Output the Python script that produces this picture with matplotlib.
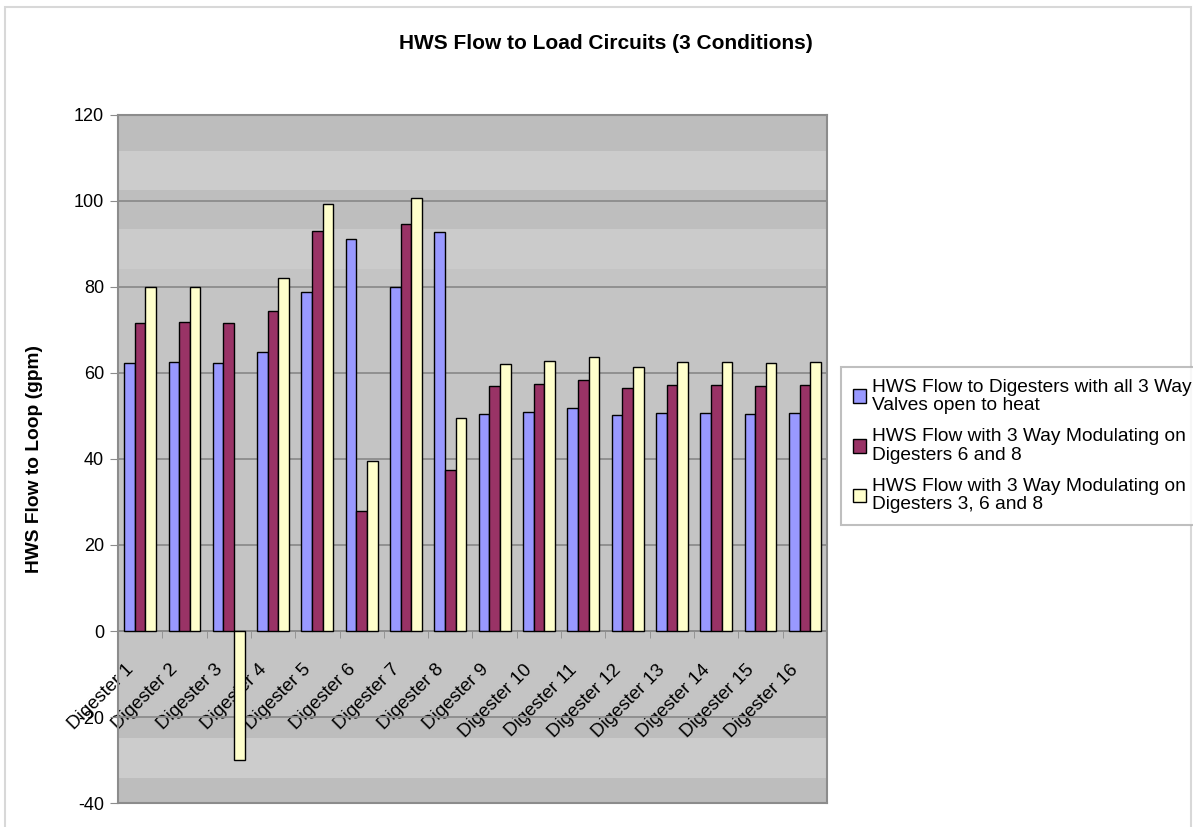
import numpy as np
import matplotlib.pyplot as plt
from matplotlib.patches import Rectangle
from matplotlib.transforms import ScaledTranslation

plt.rcParams['font.family'] = ['Liberation Sans', 'DejaVu Sans']
plt.rcParams['axes.unicode_minus'] = False

digesters = ['Digester %d' % i for i in range(1, 17)]

all_open = [62.3, 62.5, 62.3, 64.8, 78.8, 91.2, 80.0, 92.8,
            50.5, 51.0, 51.8, 50.2, 50.8, 50.8, 50.5, 50.8]
mod_6_8 = [71.7, 71.8, 71.6, 74.5, 93.0, 28.0, 94.6, 37.5,
           57.0, 57.5, 58.3, 56.5, 57.3, 57.3, 57.0, 57.3]
mod_3_6_8 = [79.9, 80.0, -30.0, 82.0, 99.2, 39.6, 100.8, 49.5,
             62.2, 62.7, 63.7, 61.4, 62.6, 62.6, 62.3, 62.6]

labels = ['HWS Flow to Digesters with all 3 Way\nValves open to heat',
          'HWS Flow with 3 Way Modulating on\nDigesters 6 and 8',
          'HWS Flow with 3 Way Modulating on\nDigesters 3, 6 and 8']
colors = ['#9999ff', '#993366', '#ffffcc']

fig = plt.figure(figsize=(11.93, 8.27), dpi=100)
ax = fig.add_axes([0.0989, 0.029, 0.5943, 0.832])

# banded plot-area fill
ax.set_facecolor('#c4c4c4')
bands = [(111.6, 120, '#bdbdbd'), (102.6, 111.6, '#cccccc'),
         (93.5, 102.6, '#bebebe'), (84.2, 93.5, '#cbcbcb'),
         (-24.9, -20.0, '#bdbdbd'), (-34.2, -24.9, '#cccccc'),
         (-40, -34.2, '#bdbdbd')]
for lo, hi, c in bands:
    ax.axhspan(lo, hi, color=c, lw=0, zorder=0)

x = np.arange(len(digesters))
w = 0.24
for i, (vals, c, lab) in enumerate(zip([all_open, mod_6_8, mod_3_6_8], colors, labels)):
    ax.bar(x + (i - 1) * w, vals, w, color=c, edgecolor='black', linewidth=1.0,
           label=lab, zorder=3)

ax.set_xlim(-0.5, len(digesters) - 0.5)
ax.set_ylim(-40, 120)
ax.set_yticks(np.arange(-40, 121, 20))
ax.set_axisbelow(True)
ax.yaxis.grid(True, color='#8c8c8c', linewidth=1.3)

for s in ['left', 'right', 'top']:
    ax.spines[s].set_color('#8c8c8c')
    ax.spines[s].set_linewidth(1.5)
ax.spines['bottom'].set_position(('data', 0))
ax.spines['bottom'].set_color('#8c8c8c')
ax.spines['bottom'].set_linewidth(1.3)
# bottom border of plot area
ax.axhline(-40, color='#8c8c8c', lw=1.5, zorder=4, clip_on=False)

ax.set_xticks(x)
ax.set_xticklabels(digesters, rotation=45, ha='right', va='top',
                   rotation_mode='anchor', fontsize=13.5)
ax.set_xticks(np.arange(-0.5, len(digesters)), minor=True)
ax.tick_params(axis='x', which='major', length=0, pad=8)
ax.tick_params(axis='x', which='minor', length=5, color='#8c8c8c', direction='out')
ax.tick_params(axis='y', length=6, color='#8c8c8c', labelsize=13, pad=4)

shift = ScaledTranslation(-0.15, -0.19, fig.dpi_scale_trans)
for t in ax.get_xticklabels():
    t.set_transform(t.get_transform() + shift)

ax.set_ylabel('HWS Flow to Loop (gpm)', fontsize=13.8, fontweight='bold', labelpad=22)
fig.text(0.508, 0.948, 'HWS Flow to Load Circuits (3 Conditions)',
         ha='center', va='center', fontsize=15, fontweight='bold')

leg = fig.legend(loc='upper left', bbox_to_anchor=(0.705, 0.556), fontsize=13.8,
                 frameon=True, fancybox=False, handlelength=0.7, handleheight=0.7,
                 handletextpad=0.3, borderpad=0.6, labelspacing=0.75,
                 borderaxespad=0)
leg.get_frame().set_edgecolor('#b0b0b0')
leg.get_frame().set_linewidth(1.5)
for t in leg.get_texts():
    t.set_linespacing(1.1)

# outer chart border
fig.patches.append(Rectangle((0.004, -0.01), 0.994, 1.002, transform=fig.transFigure,
                             fill=False, edgecolor='#d8d8d8', linewidth=1.5))

fig.savefig('out.png', dpi=100)
